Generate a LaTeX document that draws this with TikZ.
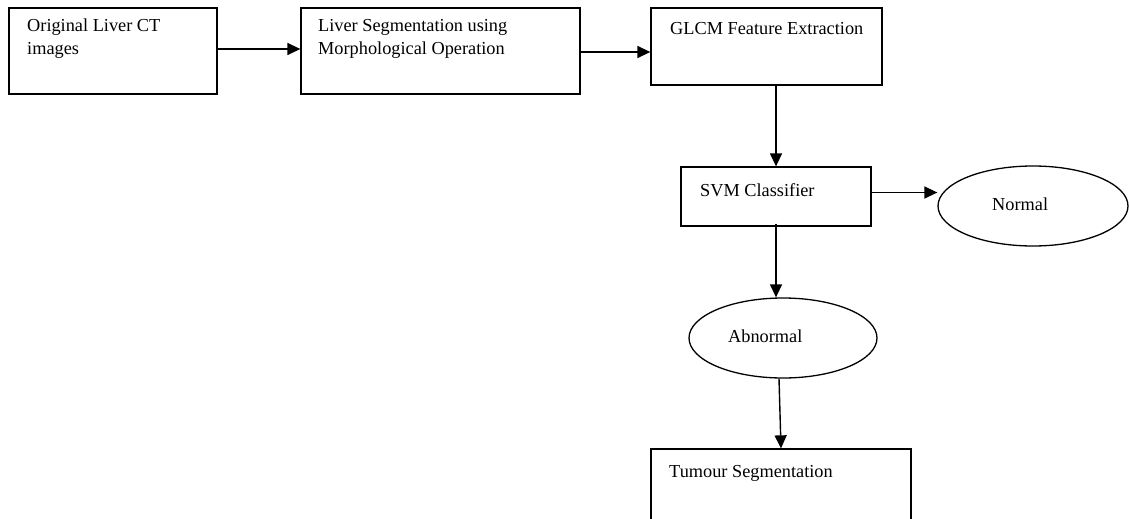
\documentclass[tikz,border=0pt]{standalone}
\usepackage{fontspec}
\setmainfont{Liberation Serif}
\usetikzlibrary{shapes.geometric,arrows.meta}
\tikzset{
  boxnode/.style={draw=black,line width=1.3pt,rectangle,inner sep=0pt},
  ovalnode/.style={draw=black,line width=1.3pt,ellipse,inner sep=0pt,minimum width=190pt,minimum height=80pt},
  lbl/.style={anchor=base west,inner sep=0pt,align=left,font=\fontsize{18.3}{23}\selectfont},
  arr/.style={line width=1.4pt,-{Triangle[length=13pt,width=12pt]}}
}
\begin{document}
\begin{tikzpicture}[x=1pt,y=-1pt]
\clip (0,0) rectangle (1129,519);
\fill[white] (0,0) rectangle (1129,519);
% boxes
\node[boxnode,minimum width=208pt,minimum height=86pt] (b1) at (113,51) {};
\node[boxnode,minimum width=279pt,minimum height=86pt] (b2) at (440.5,51) {};
\node[boxnode,minimum width=231pt,minimum height=77pt] (b3) at (766.5,46.5) {};
\node[boxnode,minimum width=190pt,minimum height=59pt] (svm) at (776,196.5) {};
\node[ovalnode] (nor) at (1033,206) {};
\node[ovalnode,minimum width=188pt,minimum height=80pt] (ab) at (783,338) {};
\node[boxnode,minimum width=260pt,minimum height=100pt] (tu) at (781,499) {};
% labels
\node[lbl] (t1) at (27,55) {Original Liver CT\\images};
\node[lbl] (t2) at (318,55) {Liver Segmentation using\\Morphological Operation};
\node[lbl] (t3) at (670,35) {GLCM Feature Extraction};
\node[lbl] (t4) at (700,196) {SVM Classifier};
\node[lbl] (t5) at (992,210) {Normal};
\node[lbl] (t6) at (728,342) {Abnormal};
\node[lbl] (t7) at (669,477) {Tumour Segmentation};
% connectors
\draw[arr] ([yshift=2pt]b1.east) -- ([yshift=2pt]b2.west);
\draw[arr] ([yshift=-1pt]b2.east) -- ([yshift=-1pt]b2.east -| b3.west);
\draw[arr] (svm.north |- b3.south) -- (svm.north);
\draw[arr] ([yshift=4pt]svm.east) -- ([yshift=4pt]nor.west |- svm.east);
\draw[arr] ([yshift=3pt]svm.south) -- (svm.south |- ab.north);
\draw[arr] ([xshift=-4pt]ab.south) -- (tu.north);
\end{tikzpicture}
\end{document}
